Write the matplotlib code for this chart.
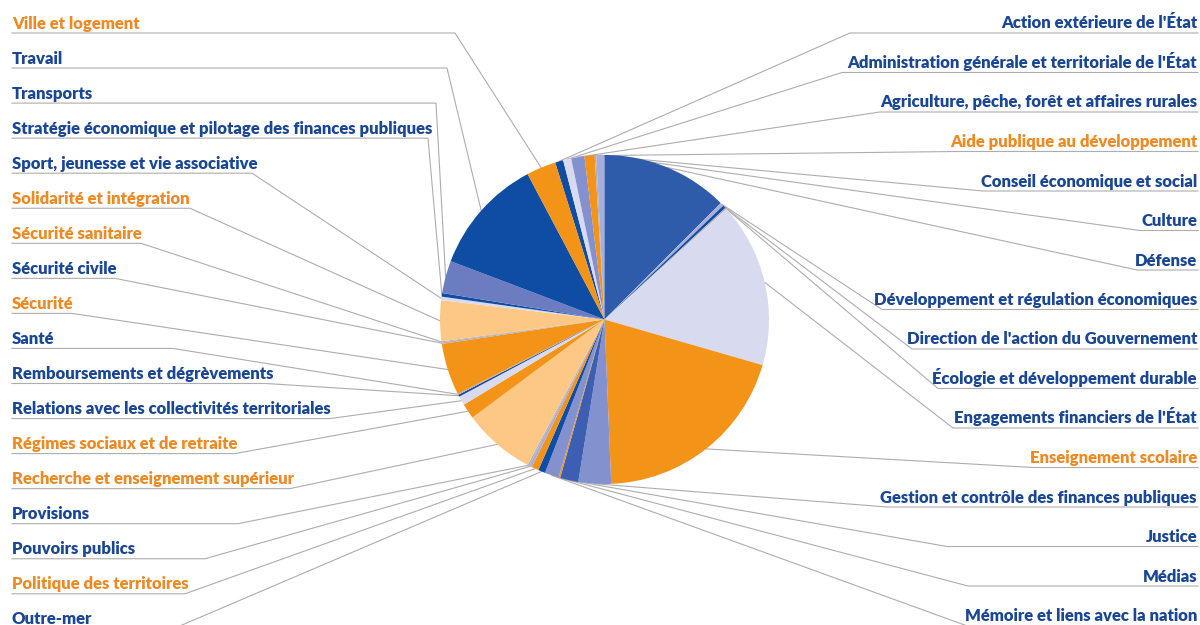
import matplotlib
matplotlib.use("Agg")
import matplotlib.pyplot as plt
from matplotlib import font_manager
import numpy as np

# missions, in clockwise order around the pie
missions = [
    "Action extérieure de l'État",
    "Administration générale et territoriale de l'État",
    "Agriculture, pêche, forêt et affaires rurales",
    "Aide publique au développement",
    "Conseil économique et social",
    "Culture",
    "Défense",
    "Développement et régulation économiques",
    "Direction de l'action du Gouvernement",
    "Écologie et développement durable",
    "Engagements financiers de l'État",
    "Enseignement scolaire",
    "Gestion et contrôle des finances publiques",
    "Justice",
    "Médias",
    "Mémoire et liens avec la nation",
    "Outre-mer",
    "Politique des territoires",
    "Pouvoirs publics",
    "Provisions",
    "Recherche et enseignement supérieur",
    "Régimes sociaux et de retraite",
    "Relations avec les collectivités territoriales",
    "Remboursements et dégrèvements",
    "Santé",
    "Sécurité",
    "Sécurité civile",
    "Sécurité sanitaire",
    "Solidarité et intégration",
    "Sport, jeunesse et vie associative",
    "Stratégie économique et pilotage des finances publiques",
    "Transports",
    "Travail",
    "Ville et logement",
]

# share of each slice (%)
shares = [0.8, 0.8, 1.3, 1.0, 0.15, 0.8, 12.5, 0.35, 0.3, 0.15,
          16.2, 19.9, 3.2, 1.8, 0.15, 1.4, 0.7, 0.7, 0.3, 0.15,
          7.1, 1.5, 0.9, 0.2, 0.1, 5.1, 0.15, 0.1, 4.0, 0.35,
          0.35, 3.2, 11.5, 2.9]

# labels drawn in orange
orange_labels = [
    "Aide publique au développement",
    "Enseignement scolaire",
    "Politique des territoires",
    "Recherche et enseignement supérieur",
    "Régimes sociaux et de retraite",
    "Sécurité",
    "Sécurité sanitaire",
    "Solidarité et intégration",
    "Ville et logement",
]

DB = "#0f4ca3"
MB = "#2f5bab"
JB = "#3d5fb3"
GB = "#8391cf"
TB = "#6c7cc0"
LV = "#d8dbef"
LG = "#a6afdb"
OR = "#f39318"
PE = "#fdc886"
TG = "#b7aeb0"
slice_colors = [DB, LV, GB, OR, TG, LG, MB, LG, DB, TG,
                LV, OR, GB, JB, OR, GB, DB, OR, LG, TG,
                PE, OR, LV, DB, TG, OR, TG, TG, PE, LV,
                DB, TB, DB, OR]

TXT_BLUE = "#1a4696"
TXT_ORANGE = "#ee8a24"

# label layout (pixels): left column top->bottom, right column top->bottom
left_order = missions[::-1][:18]
right_order = missions[:16]
left_elbow = [455, 447, 436, 428, 252, 190, 141, 115, 72, 173, 266, 330,
              235, 290, 238, 205, 185, 173]
right_elbow = [850, 842, 880, 955, 983, 1140, 1137, 882, 912, 938, 953,
               1033, 887, 947, 968, 966]

W, H = 1200, 625
cx, cy, R = 604.5, 319.5, 164.5


def Y(y):
    return H - y


names = [f.name for f in font_manager.fontManager.ttflist]
if "Liberation Sans Narrow" in names:
    fam, fs = "Liberation Sans Narrow", 12
else:
    fam, fs = "Lato", 12

fig = plt.figure(figsize=(12, 6.25), dpi=100)
ax = fig.add_axes([0, 0, 1, 1])

start = 90 + 360 * sum(shares[:6]) / sum(shares)
wedges, _ = ax.pie(shares, colors=slice_colors, startangle=start,
                   counterclock=False, center=(cx, Y(cy)), radius=R,
                   wedgeprops=dict(linewidth=0), frame=True)
for w in wedges:
    w.set_zorder(3)

mid = {}
for name, w in zip(missions, wedges):
    a = np.deg2rad((w.theta1 + w.theta2) / 2)
    mid[name] = (cx + R * np.cos(a), Y(cy) + R * np.sin(a))

line_kw = dict(color="#adadad", lw=0.8, zorder=1)

for i, name in enumerate(left_order):
    yu = 33 + i * 35.05
    px, py = mid[name]
    ax.plot([12, left_elbow[i], px], [Y(yu), Y(yu), py], **line_kw)
    col = TXT_ORANGE if name in orange_labels else TXT_BLUE
    ax.text(12, Y(yu - 4.5), name, ha="left", va="baseline", color=col,
            fontsize=fs, fontweight="heavy", family=fam)

for i, name in enumerate(right_order):
    yu = 33 + i * 39.5
    px, py = mid[name]
    ax.plot([px, right_elbow[i], 1198], [py, Y(yu), Y(yu)], **line_kw)
    col = TXT_ORANGE if name in orange_labels else TXT_BLUE
    ax.text(1197, Y(yu - 4.5), name, ha="right", va="baseline", color=col,
            fontsize=fs, fontweight="heavy", family=fam)

ax.set_xlim(0, W)
ax.set_ylim(0, H)
ax.set_aspect("auto")
ax.axis("off")

fig.savefig("out.png", dpi=100, facecolor="white")
